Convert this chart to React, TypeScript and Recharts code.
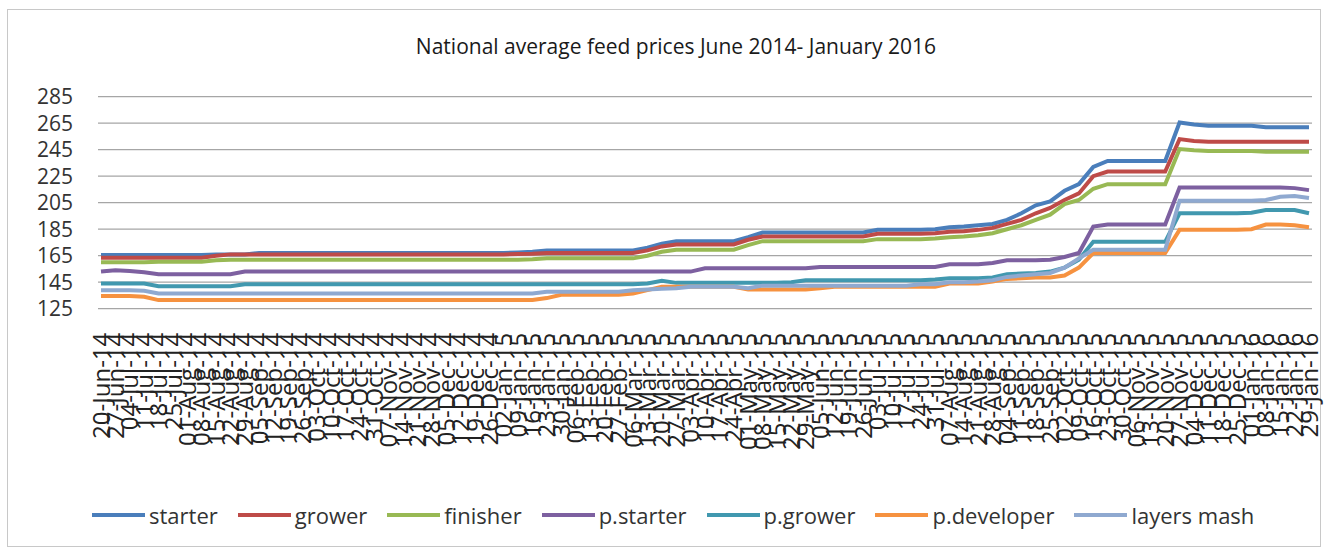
import { LineChart, Line, XAxis, YAxis, CartesianGrid, Legend } from "recharts";

const dates = [
  "20-Jun-14", "27-Jun-14", "04-Jul-14", "11-Jul-14", "18-Jul-14", "25-Jul-14", "01-Aug-14", "08-Aug-14", "15-Aug-14", "22-Aug-14",
  "29-Aug-14", "05-Sep-14", "12-Sep-14", "19-Sep-14", "26-Sep-14", "03-Oct-14", "10-Oct-14", "17-Oct-14", "24-Oct-14", "31-Oct-14",
  "07-Nov-14", "14-Nov-14", "21-Nov-14", "28-Nov-14", "05-Dec-14", "12-Dec-14", "19-Dec-14", "26-Dec-14", "02-Jan-15", "09-Jan-15",
  "16-Jan-15", "23-Jan-15", "30-Jan-15", "06-Feb-15", "13-Feb-15", "20-Feb-15", "27-Feb-15", "06-Mar-15", "13-Mar-15", "20-Mar-15",
  "27-Mar-15", "03-Apr-15", "10-Apr-15", "17-Apr-15", "24-Apr-15", "01-May-15", "08-May-15", "15-May-15", "22-May-15", "29-May-15",
  "05-Jun-15", "12-Jun-15", "19-Jun-15", "26-Jun-15", "03-Jul-15", "10-Jul-15", "17-Jul-15", "24-Jul-15", "31-Jul-15", "07-Aug-15",
  "14-Aug-15", "21-Aug-15", "28-Aug-15", "04-Sep-15", "11-Sep-15", "18-Sep-15", "25-Sep-15", "02-Oct-15", "09-Oct-15", "16-Oct-15",
  "23-Oct-15", "30-Oct-15", "06-Nov-15", "13-Nov-15", "20-Nov-15", "27-Nov-15", "04-Dec-15", "11-Dec-15", "18-Dec-15", "25-Dec-15",
  "01-Jan-16", "08-Jan-16", "15-Jan-16", "22-Jan-16", "29-Jan-16",
];

const starter = [
  165.5, 165.5, 165.5, 165.5, 165.5, 165.5, 165.5, 165.5, 166, 166,
  166, 167, 167, 167, 167, 167, 167, 167, 167, 167,
  167, 167, 167, 167, 167, 167, 167, 167, 167, 167.5,
  168, 169, 169, 169, 169, 169, 169, 169, 171, 174,
  176, 176, 176, 176, 176, 179, 182.5, 182.5, 182.5, 182.5,
  182.5, 182.5, 182.5, 182.5, 184.5, 184.5, 184.5, 184.5, 185, 186.5,
  187, 188, 189, 192, 197, 203, 206, 214, 219, 232,
  236.5, 236.5, 236.5, 236.5, 236.5, 265.5, 264, 263, 263, 263,
  263, 262, 262, 262, 262,
];

const grower = [
  163.5, 163.5, 163.5, 163.5, 163.5, 163.5, 163.5, 163.5, 165, 166,
  166, 166, 166, 166, 166, 166, 166, 166, 166, 166,
  166, 166, 166, 166, 166, 166, 166, 166, 166, 166.3,
  166.5, 167, 167, 167, 167, 167, 167, 167, 169, 172,
  173.5, 173.5, 173.5, 173.5, 173.5, 177, 179.5, 179.5, 179.5, 179.5,
  179.5, 179.5, 179.5, 179.5, 181.5, 181.5, 181.5, 181.5, 182, 183,
  183.5, 184.5, 186, 189, 192, 197, 201, 207, 212, 225,
  228.5, 228.5, 228.5, 228.5, 228.5, 253, 251.5, 251, 251, 251,
  251, 251, 251, 251, 251,
];

const finisher = [
  160, 160, 160, 160, 160.5, 160.5, 160.5, 160.5, 161.5, 162,
  162, 162, 162, 162, 162, 162, 162, 162, 162, 162,
  162, 162, 162, 162, 162, 162, 162, 162, 162, 162,
  162.3, 163, 163, 163, 163, 163, 163, 163, 165, 168,
  169.5, 169.5, 169.5, 169.5, 169.5, 173, 176, 176, 176, 176,
  176, 176, 176, 176, 177.5, 177.5, 177.5, 177.5, 178, 179,
  179.5, 180.5, 182, 185, 188, 192, 196, 204, 207, 215.5,
  219, 219, 219, 219, 219, 245.5, 244.5, 244, 244, 244,
  244, 243.5, 243.5, 243.5, 243.5,
];

const pStarter = [
  153, 154, 153.5, 152.5, 151, 151, 151, 151, 151, 151,
  153, 153, 153, 153, 153, 153, 153, 153, 153, 153,
  153, 153, 153, 153, 153, 153, 153, 153, 153, 153,
  153, 153, 153, 153, 153, 153, 153, 153, 153, 153,
  153, 153, 155.5, 155.5, 155.5, 155.5, 155.5, 155.5, 155.5, 155.5,
  156.5, 156.5, 156.5, 156.5, 156.5, 156.5, 156.5, 156.5, 156.5, 158.5,
  158.5, 158.5, 159.5, 161.5, 161.5, 161.5, 162, 164, 167, 187,
  188.5, 188.5, 188.5, 188.5, 188.5, 216.5, 216.5, 216.5, 216.5, 216.5,
  216.5, 216.5, 216.5, 216, 214.5,
];

const pGrower = [
  144, 144, 144, 144, 142, 142, 142, 142, 142, 142,
  143.5, 143.5, 143.5, 143.5, 143.5, 143.5, 143.5, 143.5, 143.5, 143.5,
  143.5, 143.5, 143.5, 143.5, 143.5, 143.5, 143.5, 143.5, 143.5, 143.5,
  143.5, 143.5, 143.5, 143.5, 143.5, 143.5, 143.5, 143.5, 144, 146,
  144.5, 144.5, 144.5, 144.5, 144.5, 144.5, 144.5, 144.5, 145, 146.5,
  146.5, 146.5, 146.5, 146.5, 146.5, 146.5, 146.5, 146.5, 147, 148,
  148, 148, 148.5, 151, 151.5, 152, 153, 156, 162, 175.5,
  175.5, 175.5, 175.5, 175.5, 175.5, 197, 197, 197, 197, 197,
  197.5, 199.5, 199.5, 199.5, 197,
];

const pDeveloper = [
  134.5, 134.5, 134.5, 134, 131.5, 131.5, 131.5, 131.5, 131.5, 131.5,
  131.5, 131.5, 131.5, 131.5, 131.5, 131.5, 131.5, 131.5, 131.5, 131.5,
  131.5, 131.5, 131.5, 131.5, 131.5, 131.5, 131.5, 131.5, 131.5, 131.5,
  131.5, 133, 135.5, 135.5, 135.5, 135.5, 135.5, 136.5, 139, 141.5,
  141.5, 141.5, 141.5, 141.5, 141.5, 139.5, 139.5, 139.5, 139.5, 139.5,
  140.5, 141.5, 141.5, 141.5, 141.5, 141.5, 141.5, 141.5, 141.5, 144,
  144, 144, 145.5, 147.5, 148, 148.5, 148.5, 150, 156, 167,
  167, 167, 167, 167, 167, 184.5, 184.5, 184.5, 184.5, 184.5,
  185, 188.5, 188.5, 188, 186.5,
];

const layersMash = [
  139, 139, 139, 138.5, 136.5, 136.5, 136.5, 136.5, 136.5, 136.5,
  136.5, 136.5, 136.5, 136.5, 136.5, 136.5, 136.5, 136.5, 136.5, 136.5,
  136.5, 136.5, 136.5, 136.5, 136.5, 136.5, 136.5, 136.5, 136.5, 136.5,
  136.5, 137.8, 137.8, 137.8, 137.8, 137.8, 137.8, 139, 139.5, 140,
  140.4, 141.5, 141.5, 141.5, 141.5, 140.5, 142.4, 142.4, 142.4, 142.4,
  142.4, 142.4, 142.4, 142.4, 142.4, 142.4, 142.4, 143.5, 143.5, 145,
  145, 145.5, 146.5, 149, 150, 151, 152, 156, 163, 169.5,
  169.5, 169.5, 169.5, 169.5, 169.5, 206.5, 206.5, 206.5, 206.5, 206.5,
  206.5, 207, 209.5, 210, 208.5,
];

const yTicks = [125, 145, 165, 185, 205, 225, 245, 265, 285];

const SERIES = [
  { key: "starter", name: "starter", color: "#4A7EBB" },
  { key: "grower", name: "grower", color: "#BE4B48" },
  { key: "finisher", name: "finisher", color: "#98B954" },
  { key: "pStarter", name: "p.starter", color: "#7D60A0" },
  { key: "pGrower", name: "p.grower", color: "#4198AF" },
  { key: "pDeveloper", name: "p.developer", color: "#F69240" },
  { key: "layersMash", name: "layers mash", color: "#8FA9D0" },
];

const data = dates.map((date, i) => ({
  date,
  starter: starter[i],
  grower: grower[i],
  finisher: finisher[i],
  pStarter: pStarter[i],
  pGrower: pGrower[i],
  pDeveloper: pDeveloper[i],
  layersMash: layersMash[i],
}));

const FONT = "'Open Sans', 'Noto Sans', sans-serif";

function DateTick(props: any) {
  const { x, y, payload } = props;
  return (
    <text
      transform={`translate(${x},${y}) rotate(-90)`}
      textAnchor="end"
      dy="0.36em"
      fontSize={24}
      fontFamily={FONT}
      fill="#222"
    >
      {payload.value}
    </text>
  );
}

function LegendRow() {
  return (
    <div
      style={{
        display: "flex",
        alignItems: "center",
        paddingLeft: 92,
        fontFamily: FONT,
        fontSize: 22,
        color: "#333",
        lineHeight: "30px",
      }}
    >
      {SERIES.map((s) => (
        <div key={s.key} style={{ display: "flex", alignItems: "center", marginRight: 20 }}>
          <svg width={53} height={6}>
            <line x1={0} y1={3} x2={53} y2={3} stroke={s.color} strokeWidth={4} />
          </svg>
          <span style={{ marginLeft: 4 }}>{s.name}</span>
        </div>
      ))}
    </div>
  );
}

export default function App() {
  return (
    <div style={{ position: "absolute", left: 0, top: 0, width: 1327, height: 550, background: "#fff" }}>
      <div
        style={{
          position: "absolute",
          left: 7,
          top: 9,
          width: 1312,
          height: 536,
          border: "1px solid #c8c8c8",
        }}
      />
      <svg style={{ position: "absolute", left: 0, top: 0 }} width={1327} height={80}>
        <text x={676} y={54} textAnchor="middle" fontSize={21} fontFamily={FONT} fill="#1a1a1a">
          National average feed prices June 2014- January 2016
        </text>
      </svg>
      <div style={{ position: "absolute", left: 0, top: 0 }}>
        <LineChart
          width={1327}
          height={550}
          data={data}
          margin={{ top: 96.7, right: 15, bottom: 111.3, left: 0 }}
        >
          <CartesianGrid vertical={false} stroke="#a6a6a6" strokeWidth={1.3} />
          <XAxis
            dataKey="date"
            interval={0}
            tick={<DateTick />}
            tickLine={false}
            axisLine={false}
            tickSize={6}
            tickMargin={18}
            height={130}
            padding={{ left: 3, right: 3 }}
          />
          <YAxis
            type="number"
            domain={[125, 285]}
            ticks={yTicks}
            interval={0}
            width={98}
            tickLine={false}
            axisLine={false}
            tickMargin={19}
            tick={{ fontSize: 21, fontFamily: FONT, fill: "#333" }}
          />
          <Legend
            verticalAlign="middle"
            align="center"
            layout="horizontal"
            content={<LegendRow />}
            wrapperStyle={{ top: 500, left: 0, width: 1327 }}
          />
          {SERIES.map((s) => (
            <Line
              key={s.key}
              type="linear"
              dataKey={s.key}
              name={s.name}
              stroke={s.color}
              strokeWidth={4}
              dot={false}
              isAnimationActive={false}
            />
          ))}
        </LineChart>
      </div>
    </div>
  );
}
